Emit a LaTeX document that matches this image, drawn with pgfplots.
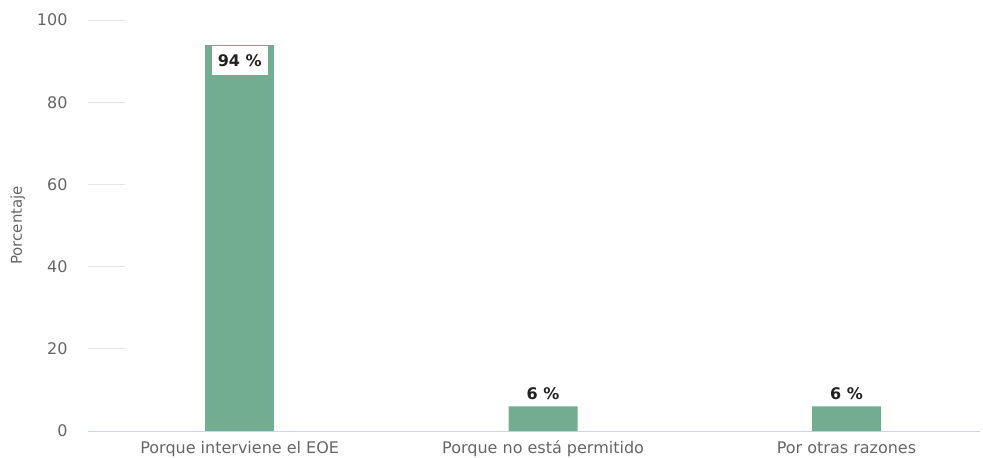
\documentclass[border=0pt]{standalone}
\usepackage{pgfplots}
\pgfplotsset{compat=1.18}
\usepackage{fontspec}
\setmainfont{DejaVu Sans}
\definecolor{barc}{HTML}{72AD91}
\definecolor{lbl}{HTML}{666666}
\definecolor{axc}{HTML}{CCD6EB}
\definecolor{grd}{HTML}{E6E6E6}
\definecolor{dlc}{HTML}{222222}
\begin{document}
\begin{tikzpicture}[x=1pt,y=1pt]
\path[use as bounding box] (0,0) rectangle (983,458);
\begin{axis}[
  at={(88pt,27pt)}, anchor=south west,
  scale only axis, width=892pt, height=411pt,
  xmin=-0.5, xmax=2.44, ymin=0, ymax=100,
  axis x line=bottom, axis y line=left,
  x axis line style={draw=axc, line width=1pt, -},
  y axis line style={draw=none},
  ytick={0,20,40,60,80,100},
  xtick={0,1,2},
  xticklabels={Porque interviene el EOE, Porque no está permitido, Por otras razones},
  xtick style={draw=none},
  ytick style={draw=grd, line width=0.8pt},
  tick align=inside,
  major tick length=37pt,
  /pgf/number format/assume math mode=true,
  tick label style={font=\fontsize{16}{19}\selectfont, text=lbl},
  yticklabel style={xshift=-17pt},
  xticklabel style={yshift=-7pt, text height=12pt, text depth=3.5pt},
  ylabel={Porcentaje},
  ylabel style={font=\fontsize{15}{18}\selectfont, text=lbl, yshift=5pt},
  clip=false,
]
\addplot[ybar, bar width=69pt, fill=barc, draw=none, bar shift=0pt,
  nodes near coords, point meta=explicit symbolic,
  every node near coord/.style={font=\fontsize{16}{19}\selectfont\bfseries, text=dlc, fill=white, inner sep=3pt, anchor=south, yshift=3pt}]
  coordinates {(1,6) [6 \%] (2,6) [6 \%]};
\addplot[ybar, bar width=69pt, fill=barc, draw=none, bar shift=0pt,
  nodes near coords, point meta=explicit symbolic,
  every node near coord/.style={font=\fontsize{16}{19}\selectfont\bfseries, text=dlc, fill=white, inner xsep=6pt, inner ysep=8.5pt, anchor=north, yshift=-1pt}]
  coordinates {(0,94) [94 \%]};
\end{axis}
\end{tikzpicture}
\end{document}
